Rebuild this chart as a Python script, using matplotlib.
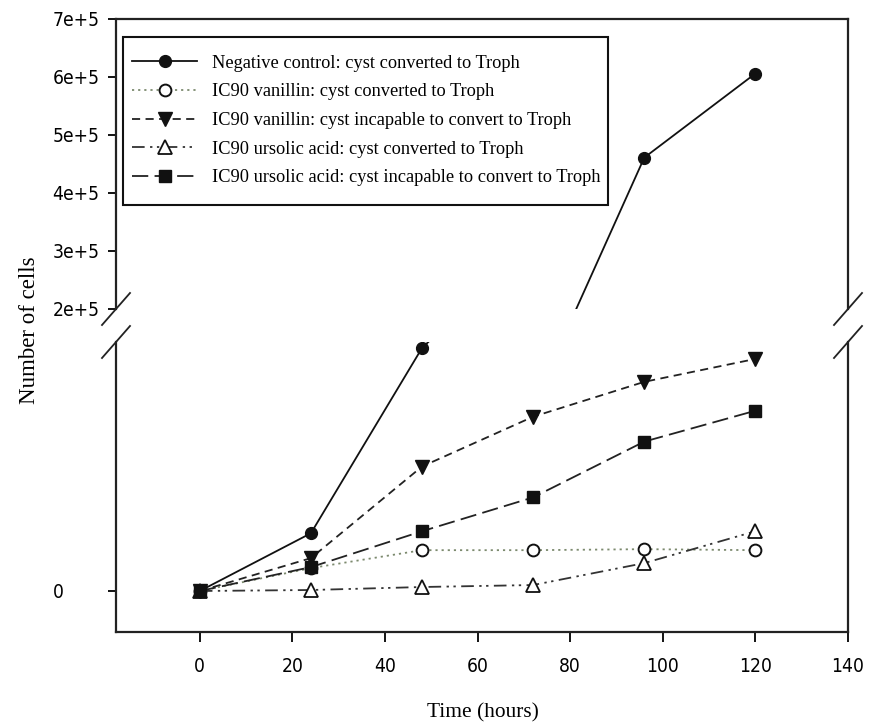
import matplotlib
matplotlib.use("Agg")
import matplotlib.pyplot as plt
from matplotlib.patches import Rectangle

# ---------------- data ----------------
hours = [0, 24, 48, 72, 96, 120]
neg_control = [0, 5800, 24400, 35000, 461000, 606000]
van_conv = [0, 2300, 4100, 4100, 4200, 4100]
van_incap = [0, 3300, 12500, 17500, 21000, 23300]
urs_conv = [0, 100, 400, 600, 2800, 6000]
urs_incap = [0, 2400, 6000, 9400, 15000, 18100]

series_labels = [
    "Negative control: cyst converted to Troph",
    "IC90 vanillin: cyst converted to Troph",
    "IC90 vanillin: cyst incapable to convert to Troph",
    "IC90 ursolic acid: cyst converted to Troph",
    "IC90 ursolic acid: cyst incapable to convert to Troph",
]
x_ticks = [0, 20, 40, 60, 80, 100, 120, 140]
upper_yticks = [200000, 300000, 400000, 500000, 600000, 700000]
upper_ytick_labels = ["2e+5", "3e+5", "4e+5", "5e+5", "6e+5", "7e+5"]
lower_yticks = [0]
lower_ytick_labels = ["0"]
x_label = "Time (hours)"
y_label = "Number of cells"

# ---------------- styling ----------------
W, H = 871, 728
fig = plt.figure(figsize=(W / 100, H / 100), dpi=100)

def fx(px):
    return px / W

def fy(py):
    return 1 - py / H

left, right = 116, 848
up_top, up_bot = 19, 309
lo_top, lo_bot = 342, 632

ax_up = fig.add_axes([fx(left), fy(up_bot), fx(right) - fx(left), fy(up_top) - fy(up_bot)])
ax_lo = fig.add_axes([fx(left), fy(lo_bot), fx(right) - fx(left), fy(lo_top) - fy(lo_bot)])

T = 25000
xlim = (-18.1, 140)
for ax in (ax_up, ax_lo):
    ax.set_xlim(*xlim)
    for s in ax.spines.values():
        s.set_linewidth(1.6)
        s.set_color("#222222")
ax_up.set_ylim(200000, 700000)
ax_lo.set_ylim(-T * 41 / 249, T)

ax_up.spines["bottom"].set_visible(False)
ax_lo.spines["top"].set_visible(False)

styles = [
    dict(color="#111111", ls="-", marker="o", mfc="#111111", mec="#111111", ms=8.5),
    dict(color="#7c8a6e", ls=(0, (1.2, 2.2)), marker="o", mfc="white", mec="#111111", ms=8.5, mew=1.4),
    dict(color="#222222", ls=(0, (4.5, 3)), marker="v", mfc="#111111", mec="#111111", ms=9.5),
    dict(color="#333333", ls=(0, (7, 3, 1.3, 2.5, 1.3, 3)), marker="^", mfc="white", mec="#111111", ms=9.5, mew=1.3),
    dict(color="#222222", ls=(0, (9, 3.5)), marker="s", mfc="#111111", mec="#111111", ms=8.5),
]
data = [neg_control, van_conv, van_incap, urs_conv, urs_incap]

handles = []
for vals, st, lab in zip(data, styles, series_labels):
    for ax in (ax_up, ax_lo):
        h, = ax.plot(hours, vals, lw=1.3, label=lab, **st)
    handles.append(h)

tick_font = dict(family=["Liberation Sans Narrow", "DejaVu Sans"], stretch="condensed", size=13.8)
ypad = (110 - 55) * 0.72

ax_up.set_xticks([])
ax_up.set_yticks(upper_yticks)
ax_up.set_yticklabels(upper_ytick_labels, fontdict=tick_font, ha="left")
ax_up.tick_params(axis="y", direction="out", length=6, width=1.3, pad=ypad, right=False)

ax_lo.set_xticks(x_ticks)
ax_lo.set_xticklabels([str(t) for t in x_ticks], fontdict=tick_font)
ax_lo.set_yticks(lower_yticks)
ax_lo.set_yticklabels(lower_ytick_labels, fontdict=tick_font, ha="left")
ax_lo.tick_params(axis="y", direction="out", length=6, width=1.3, pad=ypad)
ax_lo.tick_params(axis="x", direction="out", length=7, width=1.3, pad=11)

# break marks
for xp in (left, right):
    for yc in (up_bot, lo_top):
        fig.add_artist(plt.Line2D([fx(xp - 14), fx(xp + 14)], [fy(yc + 16), fy(yc - 16)],
                                  color="#222222", lw=1.3, transform=fig.transFigure))

serif = ["Liberation Serif", "DejaVu Serif"]
fig.text(fx(30), fy(330), y_label, rotation=90, ha="center", va="center",
         family=serif, size=16.5)
fig.text(fx(483), fy(713), x_label, ha="center", va="center", family=serif, size=15.4)

leg_fs = 13.2
leg = fig.legend(handles=handles, loc="upper left", bbox_to_anchor=(fx(132), fy(54.5)),
                 bbox_transform=fig.transFigure, borderaxespad=0, borderpad=0,
                 prop=dict(family=serif, size=leg_fs),
                 handlelength=3.55, handletextpad=0.82, labelspacing=0.64,
                 frameon=False)
fig.add_artist(Rectangle((fx(123), fy(205)), fx(608) - fx(123), fy(37) - fy(205),
                         transform=fig.transFigure, fill=True, facecolor="white",
                         edgecolor="#111111", lw=1.5, zorder=2.5))
leg.set_zorder(3)

fig.savefig("out.png", dpi=100)
